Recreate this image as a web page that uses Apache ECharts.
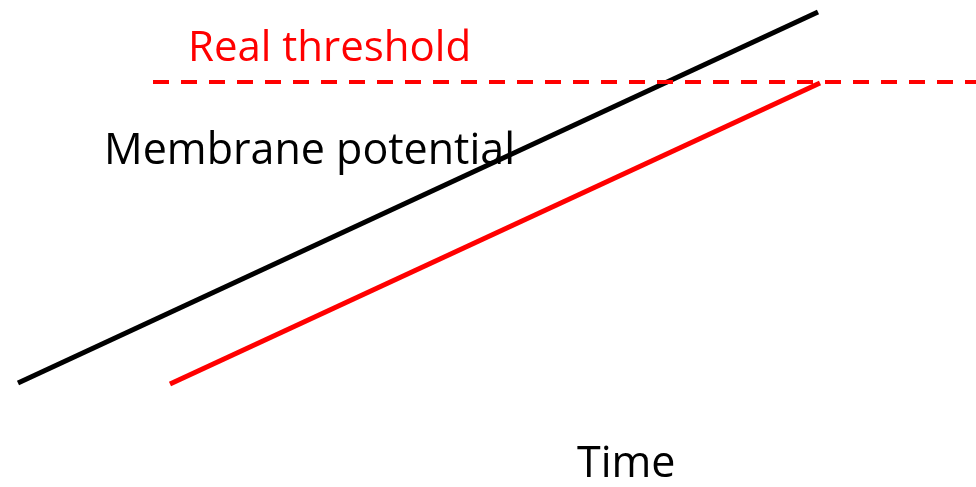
<!DOCTYPE html>
<html>
<head>
<meta charset="utf-8">
<script src="https://cdn.jsdelivr.net/npm/echarts@6/dist/echarts.min.js"></script>
<style>
  html, body { margin: 0; padding: 0; background: #fff; }
  #chart { width: 976px; height: 487px; }
</style>
</head>
<body>
<div id="chart"></div>
<script>
// time / potential pairs (arbitrary units)
let membraneTime = [18, 818];
let membraneValue = [104, 475];
let realTime = [170, 820];
let realValue = [103, 404];
let thresholdTime = [153, 976];
let thresholdValue = [405, 405];

function pairs(xs, ys) {
    return xs.map(function (x, i) { return [x, ys[i]]; });
}

let chart = echarts.init(document.getElementById('chart'));

let option = {
    animation: false,
    grid: { left: 0, right: 0, top: 0, bottom: 0 },
    xAxis: { type: 'value', min: 0, max: 976, show: false },
    yAxis: { type: 'value', min: 0, max: 487, show: false },
    series: [
        {
            type: 'line',
            data: pairs(membraneTime, membraneValue),
            symbol: 'none',
            lineStyle: { color: '#000', width: 5 }
        },
        {
            type: 'line',
            data: pairs(realTime, realValue),
            symbol: 'none',
            lineStyle: { color: '#ff0000', width: 5 }
        },
        {
            type: 'line',
            data: pairs(thresholdTime, thresholdValue),
            symbol: 'none',
            lineStyle: { color: '#ff0000', width: 4, type: [16, 12] }
        }
    ],
    graphic: [
        {
            type: 'text', left: 188, top: 28,
            style: { text: 'Real threshold', fill: '#ff0000', font: '42px "Open Sans"' }
        },
        {
            type: 'text', left: 104, top: 130,
            style: { text: 'Membrane potential', fill: '#000', font: '43px "Open Sans"' }
        },
        {
            type: 'text', left: 577, top: 443,
            style: { text: 'Time', fill: '#000', font: '43px "Open Sans"' }
        }
    ]
};

chart.setOption(option);
</script>
</body>
</html>
